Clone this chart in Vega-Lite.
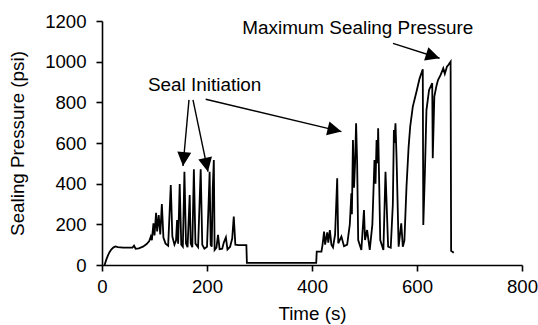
{
  "$schema": "https://vega.github.io/schema/vega-lite/v6.json",
  "width": 420,
  "height": 244,
  "autosize": {"type": "none"},
  "padding": {"left": 102, "top": 21, "right": 16, "bottom": 60},
  "background": "white",
  "config": {
    "font": "Liberation Sans",
    "view": {"stroke": null},
    "axis": {
      "grid": false,
      "domainColor": "#000",
      "tickColor": "#000",
      "labelColor": "#000",
      "titleColor": "#000",
      "labelFont": "Liberation Sans",
      "titleFont": "Liberation Sans",
      "labelFontSize": 18.6,
      "titleFontSize": 18.8,
      "titleFontWeight": "normal",
      "domainWidth": 1.6,
      "tickWidth": 1.6
    }
  },
  "datasets": {
    "series": [
      {"t": 5, "p": 0}, {"t": 8, "p": 25}, {"t": 11, "p": 45}, {"t": 14, "p": 62}, {"t": 18, "p": 77}, {"t": 22, "p": 87}, {"t": 26, "p": 91}, {"t": 30, "p": 88}, {"t": 40, "p": 85}, {"t": 50, "p": 85}, {"t": 58, "p": 86}, {"t": 61, "p": 95}, {"t": 64, "p": 80}, {"t": 70, "p": 82}, {"t": 78, "p": 90}, {"t": 85, "p": 103}, {"t": 90, "p": 118}, {"t": 93, "p": 140}, {"t": 95, "p": 122}, {"t": 98, "p": 205}, {"t": 100, "p": 145}, {"t": 103, "p": 257}, {"t": 105, "p": 165}, {"t": 108, "p": 246}, {"t": 111, "p": 150}, {"t": 114, "p": 300}, {"t": 117, "p": 135}, {"t": 121, "p": 105}, {"t": 126, "p": 95}, {"t": 131, "p": 393}, {"t": 134, "p": 140}, {"t": 138, "p": 100}, {"t": 141, "p": 120}, {"t": 143, "p": 221}, {"t": 145, "p": 105}, {"t": 148, "p": 398}, {"t": 151, "p": 100}, {"t": 154, "p": 90}, {"t": 157, "p": 459}, {"t": 160, "p": 105}, {"t": 163, "p": 88}, {"t": 167, "p": 344}, {"t": 169, "p": 105}, {"t": 172, "p": 88}, {"t": 175, "p": 471}, {"t": 178, "p": 105}, {"t": 183, "p": 88}, {"t": 188, "p": 471}, {"t": 191, "p": 100}, {"t": 195, "p": 80}, {"t": 200, "p": 90}, {"t": 203, "p": 300}, {"t": 205, "p": 459}, {"t": 207, "p": 100}, {"t": 209, "p": 90}, {"t": 211, "p": 380}, {"t": 213, "p": 516}, {"t": 214.5, "p": 74}, {"t": 218, "p": 85}, {"t": 221, "p": 148}, {"t": 224, "p": 78}, {"t": 229, "p": 80}, {"t": 232, "p": 110}, {"t": 236, "p": 136}, {"t": 239, "p": 76}, {"t": 244, "p": 90}, {"t": 248, "p": 130}, {"t": 251, "p": 238}, {"t": 254, "p": 100}, {"t": 260, "p": 98}, {"t": 275, "p": 98}, {"t": 276, "p": 10}, {"t": 408, "p": 10}, {"t": 409, "p": 66}, {"t": 418, "p": 66}, {"t": 420, "p": 98}, {"t": 423, "p": 164}, {"t": 425, "p": 100}, {"t": 429, "p": 160}, {"t": 431, "p": 110}, {"t": 434, "p": 172}, {"t": 437, "p": 100}, {"t": 440, "p": 87}, {"t": 444, "p": 150}, {"t": 448, "p": 426}, {"t": 450, "p": 107}, {"t": 456, "p": 140}, {"t": 461, "p": 92}, {"t": 467, "p": 100}, {"t": 472, "p": 200}, {"t": 475, "p": 353}, {"t": 476, "p": 250}, {"t": 478, "p": 615}, {"t": 480, "p": 380}, {"t": 482, "p": 500}, {"t": 484, "p": 697}, {"t": 486, "p": 500}, {"t": 488, "p": 123}, {"t": 494, "p": 74}, {"t": 499, "p": 270}, {"t": 501, "p": 123}, {"t": 505, "p": 172}, {"t": 510, "p": 74}, {"t": 515, "p": 200}, {"t": 519, "p": 516}, {"t": 521, "p": 400}, {"t": 523, "p": 615}, {"t": 525, "p": 500}, {"t": 526, "p": 672}, {"t": 528, "p": 400}, {"t": 530, "p": 123}, {"t": 536, "p": 74}, {"t": 540, "p": 459}, {"t": 545, "p": 90}, {"t": 550, "p": 85}, {"t": 554, "p": 300}, {"t": 556, "p": 664}, {"t": 557, "p": 600}, {"t": 559, "p": 697}, {"t": 561, "p": 533}, {"t": 565, "p": 90}, {"t": 570, "p": 205}, {"t": 573, "p": 90}, {"t": 576, "p": 120}, {"t": 580, "p": 385}, {"t": 584, "p": 580}, {"t": 587, "p": 680}, {"t": 592, "p": 779}, {"t": 599, "p": 852}, {"t": 605, "p": 918}, {"t": 611, "p": 963}, {"t": 612, "p": 197}, {"t": 615, "p": 450}, {"t": 618, "p": 762}, {"t": 623, "p": 861}, {"t": 629, "p": 894}, {"t": 630, "p": 525}, {"t": 633, "p": 828}, {"t": 637, "p": 880}, {"t": 640, "p": 910}, {"t": 645, "p": 935}, {"t": 650, "p": 967}, {"t": 653, "p": 940}, {"t": 657, "p": 975}, {"t": 660, "p": 985}, {"t": 664, "p": 1000}, {"t": 665, "p": 70}, {"t": 670, "p": 60}
    ],
    "arrows": [
      {"id": "a1", "t0": 165.7, "p0": 812, "t": 154.3, "p": 487},
      {"id": "a2", "t0": 173.3, "p0": 812, "t": 201.9, "p": 459},
      {"id": "a3", "t0": 197.5, "p0": 815, "t": 456, "p": 656},
      {"id": "a4", "t0": 554.3, "p0": 1090, "t": 643, "p": 1017}
    ],
    "labels": [
      {"label": "Seal Initiation", "t": 195.5, "p": 856},
      {"label": "Maximum Sealing Pressure", "t": 487.1, "p": 1136}
    ]
  },
  "layer": [
    {
      "data": {"name": "series"},
      "mark": {"type": "line", "color": "#000", "strokeWidth": 1.8, "interpolate": "linear"},
      "encoding": {
        "x": {
          "field": "t", "type": "quantitative",
          "scale": {"domain": [0, 800], "nice": false, "zero": false},
          "axis": {"title": "Time (s)", "format": "d", "values": [0, 200, 400, 600, 800], "tickSize": 6, "labelPadding": 6, "titlePadding": 9, "labelFlush": false, "labelOverlap": false}
        },
        "y": {
          "field": "p", "type": "quantitative",
          "scale": {"domain": [0, 1200], "nice": false},
          "axis": {"title": "Sealing Pressure (psi)", "format": "d", "values": [0, 200, 400, 600, 800, 1000, 1200], "tickSize": 6, "labelPadding": 10, "titlePadding": 17, "labelOverlap": false}
        }
      }
    },
    {
      "data": {"name": "arrows"},
      "mark": {"type": "rule", "color": "#000", "strokeWidth": 1.4},
      "encoding": {
        "x": {"field": "t0", "type": "quantitative", "title": "Time (s)"},
        "y": {"field": "p0", "type": "quantitative", "title": "Sealing Pressure (psi)"},
        "x2": {"field": "t"},
        "y2": {"field": "p"}
      }
    },
    {
      "data": {"name": "arrows"},
      "transform": [{"filter": "datum.id === 'a1'"}],
      "mark": {"type": "point", "shape": "M0,0L-0.5,1L0.5,1Z", "size": 784, "filled": true, "opacity": 1, "color": "#000", "strokeWidth": 0, "angle": 185.2},
      "encoding": {
        "x": {"field": "t", "type": "quantitative", "title": "Time (s)"},
        "y": {"field": "p", "type": "quantitative", "title": "Sealing Pressure (psi)"}
      }
    },
    {
      "data": {"name": "arrows"},
      "transform": [{"filter": "datum.id === 'a2'"}],
      "mark": {"type": "point", "shape": "M0,0L-0.5,1L0.5,1Z", "size": 784, "filled": true, "opacity": 1, "color": "#000", "strokeWidth": 0, "angle": 168.2},
      "encoding": {
        "x": {"field": "t", "type": "quantitative", "title": "Time (s)"},
        "y": {"field": "p", "type": "quantitative", "title": "Sealing Pressure (psi)"}
      }
    },
    {
      "data": {"name": "arrows"},
      "transform": [{"filter": "datum.id === 'a3'"}],
      "mark": {"type": "point", "shape": "M0,0L-0.5,1L0.5,1Z", "size": 784, "filled": true, "opacity": 1, "color": "#000", "strokeWidth": 0, "angle": 103.4},
      "encoding": {
        "x": {"field": "t", "type": "quantitative", "title": "Time (s)"},
        "y": {"field": "p", "type": "quantitative", "title": "Sealing Pressure (psi)"}
      }
    },
    {
      "data": {"name": "arrows"},
      "transform": [{"filter": "datum.id === 'a4'"}],
      "mark": {"type": "point", "shape": "M0,0L-0.5,1L0.5,1Z", "size": 784, "filled": true, "opacity": 1, "color": "#000", "strokeWidth": 0, "angle": 107.8},
      "encoding": {
        "x": {"field": "t", "type": "quantitative", "title": "Time (s)"},
        "y": {"field": "p", "type": "quantitative", "title": "Sealing Pressure (psi)"}
      }
    },
    {
      "data": {"name": "labels"},
      "mark": {"type": "text", "font": "Liberation Sans", "fontSize": 18.9, "color": "#000", "align": "center", "baseline": "alphabetic"},
      "encoding": {
        "x": {"field": "t", "type": "quantitative", "title": "Time (s)"},
        "y": {"field": "p", "type": "quantitative", "title": "Sealing Pressure (psi)"},
        "text": {"field": "label"}
      }
    }
  ]
}
